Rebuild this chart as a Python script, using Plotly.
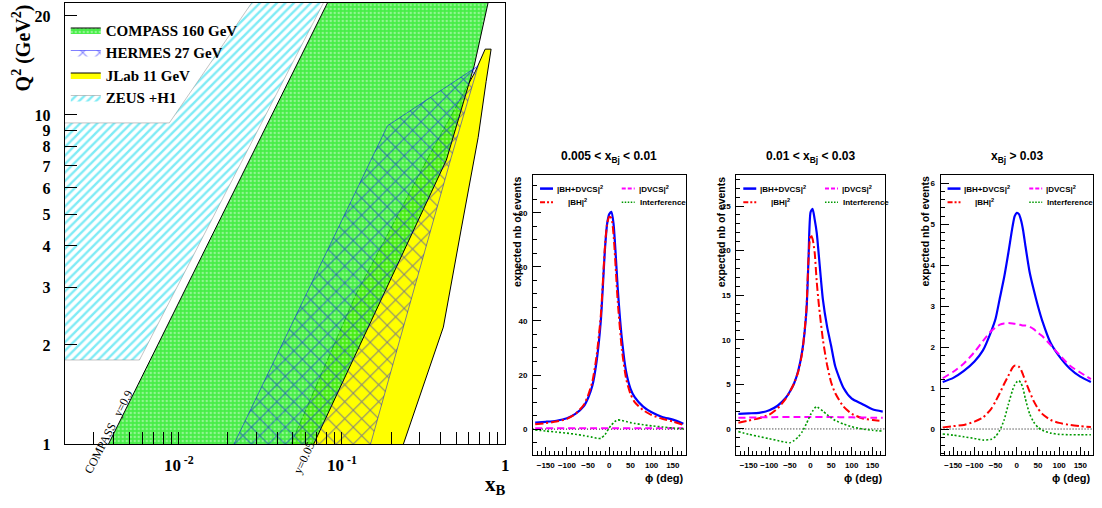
import plotly.graph_objects as go
import math

# ---------------- Left panel: kinematic coverage (x_B, Q^2) ----------------
zeus_x = [0.002, 0.00574, 0.0773, 0.0281, 0.00875, 0.002]
zeus_q2 = [1.80, 1.80, 22.0, 22.0, 9.46, 9.46]

jlab_x = [0.0487, 0.1214, 0.338, 0.5935, 0.655, 0.754, 0.820, 0.7645, 0.683, 0.538, 0.418, 0.238]
jlab_q2 = [1.0, 2.84, 7.44, 12.29, 13.53, 15.85, 15.85, 12.64, 8.54, 4.50, 2.266, 1.0]

compass_x = [0.00371, 0.0818, 0.787, 0.646, 0.436, 0.0671]
compass_q2 = [1.0, 22.0, 22.0, 14.1, 7.29, 1.0]

hermes_x = [0.0218, 0.190, 0.683, 0.4675, 0.2314, 0.1497]
hermes_q2 = [1.0, 9.27, 14.1, 7.44, 2.16, 1.0]

xb_minor_ticks = [0.003, 0.004, 0.005, 0.006, 0.007, 0.008, 0.009,
                  0.02, 0.03, 0.04, 0.05, 0.06, 0.07, 0.08, 0.09,
                  0.2, 0.3, 0.4, 0.5, 0.6, 0.7, 0.8, 0.9]
xb_major_ticks = [0.01, 0.1, 1]
xb_major_labels = ["10<sup> -2</sup>", "10<sup> -1</sup>", "1"]
q2_ticks = [1, 2, 3, 4, 5, 6, 7, 8, 9, 10, 20]
q2_labels = ["1", "2", "3", "4", "5", "6", "7", "8", "9", "10", "20"]

# ---------------- Right panels: expected nb of events vs phi ----------------
phi = [-175, -150, -125, -100, -80, -60, -50, -40, -30, -20, -10, -5, 0,
       5, 10, 15, 20, 30, 40, 50, 60, 80, 100, 125, 150, 175]

p1_total = [2.4, 2.7, 3.1, 4.0, 5.6, 8.5, 11.5, 16, 25, 40, 67, 76, 79.5,
            80.3, 76, 65, 52, 33, 21, 15, 11.8, 8.3, 6.2, 4.5, 3.5, 2.0]
p1_bh = [1.8, 2.2, 2.8, 3.8, 5.6, 9.0, 12.5, 17.5, 27, 42, 68, 76, 78.5,
         78, 72, 60, 47, 29, 18.5, 13, 10, 7.0, 5.2, 3.8, 2.8, 1.5]
p1_dvcs = [0.3, 0.3, 0.3, 0.3, 0.3, 0.35, 0.35, 0.35, 0.35, 0.35, 0.35, 0.35, 0.35,
           0.35, 0.35, 0.35, 0.35, 0.35, 0.35, 0.35, 0.35, 0.3, 0.3, 0.3, 0.3, 0.3]
p1_int = [-0.3, -0.7, -1.1, -1.5, -1.9, -2.4, -2.7, -3.0, -3.4, -3.4, -2.0, -0.8, 0.5,
          1.5, 2.3, 3.0, 3.4, 3.2, 2.8, 2.4, 2.1, 1.6, 1.2, 0.8, 0.4, 0.1]

p2_total = [1.7, 1.75, 1.8, 2.1, 2.6, 3.5, 4.2, 5.1, 6.5, 8.8, 13.2, 19, 24.3,
            24.7, 23.5, 22, 19.5, 14.5, 11.5, 9.3, 7.0, 4.6, 3.4, 2.8, 2.2, 1.95]
p2_bh = [0.7, 0.95, 1.2, 1.6, 2.3, 3.4, 4.2, 5.1, 6.4, 8.6, 13.5, 19, 21.8,
         21.3, 19.8, 16.5, 14, 10, 7.2, 5.2, 4.0, 2.5, 1.7, 1.2, 1.0, 0.9]
p2_dvcs = [1.25, 1.27, 1.3, 1.32, 1.33, 1.34, 1.35, 1.35, 1.35, 1.35, 1.35, 1.35, 1.35,
           1.35, 1.35, 1.35, 1.35, 1.35, 1.35, 1.34, 1.33, 1.32, 1.3, 1.28, 1.26, 1.25]
p2_int = [-0.3, -0.6, -0.85, -1.1, -1.3, -1.5, -1.55, -1.3, -0.9, -0.3, 0.6, 1.1, 1.6,
          2.0, 2.35, 2.5, 2.35, 2.0, 1.6, 1.25, 0.95, 0.55, 0.25, 0.0, -0.15, -0.25]

p3_total = [1.15, 1.25, 1.42, 1.65, 1.92, 2.4, 2.7, 3.2, 3.7, 4.3, 4.95, 5.2, 5.28,
            5.25, 5.1, 4.85, 4.5, 3.85, 3.4, 3.0, 2.65, 2.1, 1.78, 1.48, 1.28, 1.15]
p3_bh = [0.04, 0.07, 0.1, 0.18, 0.28, 0.5, 0.68, 0.88, 1.1, 1.3, 1.5, 1.55, 1.55,
         1.52, 1.45, 1.32, 1.18, 0.92, 0.68, 0.5, 0.37, 0.22, 0.15, 0.1, 0.07, 0.05]
p3_dvcs = [1.24, 1.4, 1.6, 1.88, 2.15, 2.4, 2.48, 2.55, 2.58, 2.59, 2.58, 2.57, 2.56,
           2.55, 2.54, 2.53, 2.53, 2.5, 2.44, 2.35, 2.27, 2.05, 1.82, 1.55, 1.38, 1.22]
p3_int = [-0.12, -0.15, -0.19, -0.23, -0.27, -0.25, -0.18, -0.03, 0.22, 0.6, 0.95, 1.08, 1.15,
          1.18, 1.12, 0.98, 0.75, 0.38, 0.17, 0.04, -0.03, -0.1, -0.13, -0.14, -0.14, -0.14]

panel_titles = ["0.005 &lt; x<sub>Bj</sub> &lt; 0.01", "0.01 &lt; x<sub>Bj</sub> &lt; 0.03",
                "x<sub>Bj</sub> &gt; 0.03"]
panel_yranges = [[-9.5, 94], [-2.9, 28.5], [-0.63, 6.21]]
panel_dticks = [20, 5, 1]
panel_minor = [5, 1, 0.2]

# ---------------- Figure ----------------
W, H = 1102, 508
def PX(x):
    return x / W
def PY(y):
    return 1 - y / H

SERIF = "Liberation Serif"
SANS = "Liberation Sans"

fig = go.Figure()

fig.add_trace(go.Scatter(x=zeus_x, y=zeus_q2, fill="toself", mode="lines",
                         line=dict(width=0.5, color="#888888"), fillcolor="rgba(0,0,0,0)",
                         fillpattern=dict(shape="/", fgcolor="#00d8ec", size=6, solidity=0.4),
                         name="ZEUS +H1", legendrank=4, legendgroup="z",
                         xaxis="x", yaxis="y", hoverinfo="skip"))
fig.add_trace(go.Scatter(x=jlab_x, y=jlab_q2, fill="toself", mode="lines",
                         line=dict(width=1, color="black"), fillcolor="#ffff00",
                         name="JLab 11 GeV", legendrank=3, legendgroup="j",
                         xaxis="x", yaxis="y", hoverinfo="skip"))
fig.add_trace(go.Scatter(x=compass_x, y=compass_q2, fill="toself", mode="lines",
                         line=dict(width=1, color="black"), fillcolor="rgba(25,232,25,0.8)",
                         fillpattern=dict(shape=".", fgcolor="rgba(255,255,255,0.8)", size=4,
                                          solidity=0.32, fillmode="overlay"),
                         name="COMPASS 160 GeV", legendrank=1, legendgroup="c",
                         xaxis="x", yaxis="y", hoverinfo="skip"))
fig.add_trace(go.Scatter(x=hermes_x, y=hermes_q2, fill="toself", mode="lines",
                         line=dict(width=0.5, color="#0000ff"), fillcolor="rgba(0,0,0,0)",
                         fillpattern=dict(shape="x", fgcolor="#0000ff", size=12, solidity=0.16),
                         name="HERMES 27 GeV", legendrank=2, legendgroup="h",
                         xaxis="x", yaxis="y", hoverinfo="skip"))

BLUE, RED, MAG, GRN = "#0000ff", "#ff0000", "#ff00ff", "#009900"
styles = [(BLUE, "solid", 2.2), (RED, "8px,3px,2px,3px", 2), (MAG, "7px,4px", 2), (GRN, "2px,2px", 1.6)]
panels = [(p1_total, p1_bh, p1_dvcs, p1_int),
          (p2_total, p2_bh, p2_dvcs, p2_int),
          (p3_total, p3_bh, p3_dvcs, p3_int)]
for i, curves in enumerate(panels):
    ax = str(i + 2)
    for yv, (col, dash, w) in zip(curves, styles):
        fig.add_trace(go.Scatter(x=phi, y=yv, mode="lines", line=dict(color=col, dash=dash, width=w, shape="spline", smoothing=0.6),
                                 showlegend=False, xaxis="x" + ax, yaxis="y" + ax, hoverinfo="skip"))

layout = dict(
    width=W, height=H, margin=dict(l=0, r=0, t=0, b=0),
    paper_bgcolor="white", plot_bgcolor="white",
    showlegend=True,
    legend=dict(x=PX(66), y=PY(14), xanchor="left", yanchor="top", bgcolor="rgba(0,0,0,0)",
                borderwidth=0, tracegroupgap=0, itemwidth=30,
                font=dict(family=SERIF, size=15, color="black", weight="bold")),
    xaxis=dict(domain=[PX(65), PX(507)], type="log", range=[math.log10(0.002), 0], anchor="y",
               tickvals=xb_minor_ticks + xb_major_ticks,
               ticktext=[""] * len(xb_minor_ticks) + xb_major_labels,
               ticks="inside", ticklen=12, tickcolor="black", showline=True, linecolor="black",
               linewidth=1, mirror=True, showgrid=False, zeroline=False, ticklabelstandoff=6,
               tickfont=dict(family=SERIF, size=17, color="black", weight="bold")),
    yaxis=dict(domain=[PY(452), PY(3)], type="log", range=[0, math.log10(21.9)], anchor="x",
               tickvals=q2_ticks, ticktext=q2_labels,
               ticks="inside", ticklen=12, tickcolor="black", showline=True, linecolor="black",
               linewidth=1, mirror=True, showgrid=False, zeroline=False, ticklabelstandoff=10,
               tickfont=dict(family=SERIF, size=16, color="black", weight="bold")),
)

lefts = [535, 739, 944]
rights = [688, 888, 1097]
TOP, BOT = 178, 463
for i in range(3):
    ax = str(i + 2)
    layout["xaxis" + ax] = dict(domain=[PX(lefts[i]), PX(rights[i])], range=[-180, 180], anchor="y" + ax,
                                tick0=0, dtick=50, ticks="inside", ticklen=8, tickcolor="black",
                                minor=dict(dtick=10, ticklen=4, ticks="inside", tickcolor="black"),
                                showline=True, linecolor="black", linewidth=1, mirror=True,
                                showgrid=False, zeroline=False, ticklabelstandoff=3,
                                tickfont=dict(family=SANS, size=8, color="black", weight="bold"))
    layout["yaxis" + ax] = dict(domain=[PY(BOT), PY(TOP)], range=panel_yranges[i], anchor="x" + ax,
                                tick0=0, dtick=panel_dticks[i], ticks="inside", ticklen=8, tickcolor="black",
                                minor=dict(dtick=panel_minor[i], ticklen=4, ticks="inside", tickcolor="black"),
                                showline=True, linecolor="black", linewidth=1, mirror=True,
                                showgrid=False, zeroline=False, ticklabelstandoff=3,
                                tickfont=dict(family=SANS, size=8, color="black", weight="bold"))
fig.update_layout(**layout)

ann = []
shapes = []
# left panel texts
ann.append(dict(text="Q<sup>2</sup> (GeV<sup>2</sup>)", x=PX(22), y=PY(2), xref="paper", yref="paper",
                xanchor="center", yanchor="top", textangle=-90, showarrow=False,
                font=dict(family=SERIF, size=20, color="black", weight="bold")))
ann.append(dict(text="x<sub>B</sub>", x=PX(497), y=PY(494), xref="paper", yref="paper",
                xanchor="center", yanchor="middle", showarrow=False,
                font=dict(family=SERIF, size=21, color="black", weight="bold")))
ann.append(dict(text="COMPASS   y=0.9", x=PX(109), y=PY(440), xref="paper", yref="paper",
                xanchor="center", yanchor="middle", textangle=-63, showarrow=False,
                font=dict(family=SERIF, size=12, color="black")))
ann.append(dict(text="y=0.05", x=PX(305), y=PY(466), xref="paper", yref="paper",
                xanchor="center", yanchor="middle", textangle=-65, showarrow=False,
                font=dict(family=SERIF, size=12, color="black")))

leg_items = [("|BH+DVCS|<sup>2</sup>", BLUE, "solid", 2.5, 0, 7, 22),
             ("|DVCS|<sup>2</sup>", MAG, "4px,2px", 2, 0, 89, 104),
             ("|BH|<sup>2</sup>", RED, "5px,2px,2px,2px", 2, 1, 7, 33),
             ("Interference", GRN, "1.5px,1.5px", 1.5, 1, 89, 105)]
for i in range(3):
    ax = str(i + 2)
    L, R = lefts[i], rights[i]
    ann.append(dict(text=panel_titles[i], x=PX((L + R) / 2), y=PY(160), xref="paper", yref="paper",
                    xanchor="center", yanchor="middle", showarrow=False,
                    font=dict(family=SANS, size=12, color="black", weight="bold")))
    ann.append(dict(text="expected nb of events", x=PX(L - 16), y=PY(TOP), xref="paper", yref="paper",
                    xanchor="center", yanchor="top", textangle=-90, showarrow=False,
                    font=dict(family=SANS, size=10.5, color="black", weight="bold")))
    ann.append(dict(text="\u03d5 (deg)", x=PX(R), y=PY(487), xref="paper", yref="paper",
                    xanchor="right", yanchor="middle", showarrow=False,
                    font=dict(family=SANS, size=11, color="black", weight="bold")))
    shapes.append(dict(type="line", xref="x" + ax + " domain", yref="y" + ax, x0=0, x1=1, y0=0, y1=0,
                       line=dict(color="black", width=1, dash="1px,2px"), layer="below"))
    for text, col, dash, w, row, xoff, toff in leg_items:
        yy = 192 + 14 * row
        shapes.append(dict(type="line", xref="paper", yref="paper", x0=PX(L + xoff), x1=PX(L + xoff + 13),
                           y0=PY(yy), y1=PY(yy), line=dict(color=col, width=w, dash=dash)))
        ann.append(dict(text=text, x=PX(L + toff), y=PY(yy), xref="paper", yref="paper",
                        xanchor="left", yanchor="middle", showarrow=False,
                        font=dict(family=SANS, size=8, color="black", weight="bold")))

fig.update_layout(annotations=ann, shapes=shapes)
fig.write_html("out.html", config={"displayModeBar": False},
               post_script="document.body.style.margin='0px';")
